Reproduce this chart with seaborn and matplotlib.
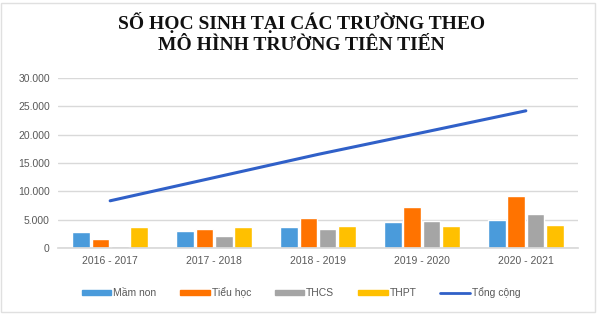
import matplotlib
matplotlib.use("Agg")
import matplotlib.pyplot as plt
import seaborn as sns
import pandas as pd
import numpy as np
from matplotlib.ticker import FuncFormatter, MultipleLocator
from matplotlib.patches import Rectangle

years = ["2016 - 2017", "2017 - 2018", "2018 - 2019", "2019 - 2020", "2020 - 2021"]
series = ["Mầm non", "Tiểu học", "THCS", "THPT"]
mam_non = [2770, 3050, 3700, 4530, 4880]
tieu_hoc = [1590, 3400, 5230, 7230, 9230]
thcs = [300, 2060, 3410, 4820, 6000]
thpt = [3650, 3760, 3940, 3940, 4060]
tong_cong = [8340, 12430, 16530, 20360, 24220]

colors = ["#4A9BDB", "#FF7300", "#A5A5A5", "#FFC000"]
line_color = "#3060C8"

df = pd.DataFrame({
    "year": years * 4,
    "series": sum([[s] * 5 for s in series], []),
    "value": mam_non + tieu_hoc + thcs + thpt,
})

sns.set_theme(style="white")
plt.rcParams['font.family'] = ['Liberation Sans', 'DejaVu Sans']

fig = plt.figure(figsize=(6, 3.16), dpi=100)
ax = fig.add_axes([0.097, 0.215, 0.866, 0.538])

sns.barplot(data=df, x="year", y="value", hue="series", order=years,
            hue_order=series, palette=colors, width=0.74, gap=0.08,
            ax=ax, legend=False, saturation=1)
sns.pointplot(x=years, y=tong_cong, order=years, color=line_color,
              markers="", linestyles="-", ax=ax)
for l in ax.lines:
    l.set_linewidth(2.2)

ax.set_ylim(0, 30000)
ax.yaxis.set_major_locator(MultipleLocator(5000))
ax.yaxis.set_major_formatter(FuncFormatter(lambda v, p: f"{int(v):,}".replace(",", ".")))
ax.grid(axis="y", color="#D9D9D9", linewidth=1)
ax.set_axisbelow(True)
for s in ["top", "right", "left"]:
    ax.spines[s].set_visible(False)
ax.spines["bottom"].set_color("#D9D9D9")
ax.set_xlabel("")
ax.set_ylabel("")
ax.tick_params(axis="both", length=0, labelsize=7.5, colors="#595959", pad=6)
ax.set_xlim(-0.5, 4.5)

fig.suptitle("SỐ HỌC SINH TẠI CÁC TRƯỜNG THEO\nMÔ HÌNH TRƯỜNG TIÊN TIẾN",
             x=0.503, y=0.962, fontsize=14, fontweight="bold",
             family=["Liberation Serif", "DejaVu Serif"], color="#111111",
             linespacing=1.3)

handles = [Rectangle((0, 0), 1, 1, color=c) for c in colors]
handles.append(plt.Line2D([0], [0], color=line_color, linewidth=2))
labels = series + ["Tổng cộng"]
fig.legend(handles, labels, loc="center", bbox_to_anchor=(0.502, 0.073), ncol=5,
           frameon=False, fontsize=7.5, labelcolor="#595959",
           handlelength=2.8, handleheight=0.45, handletextpad=0.2,
           columnspacing=2.3)

fig.patches.append(Rectangle((0.002, 0.012), 0.99, 0.98, transform=fig.transFigure,
                             fill=False, edgecolor="#E0E0E0", linewidth=1))

fig.savefig("out.png", dpi=100)
